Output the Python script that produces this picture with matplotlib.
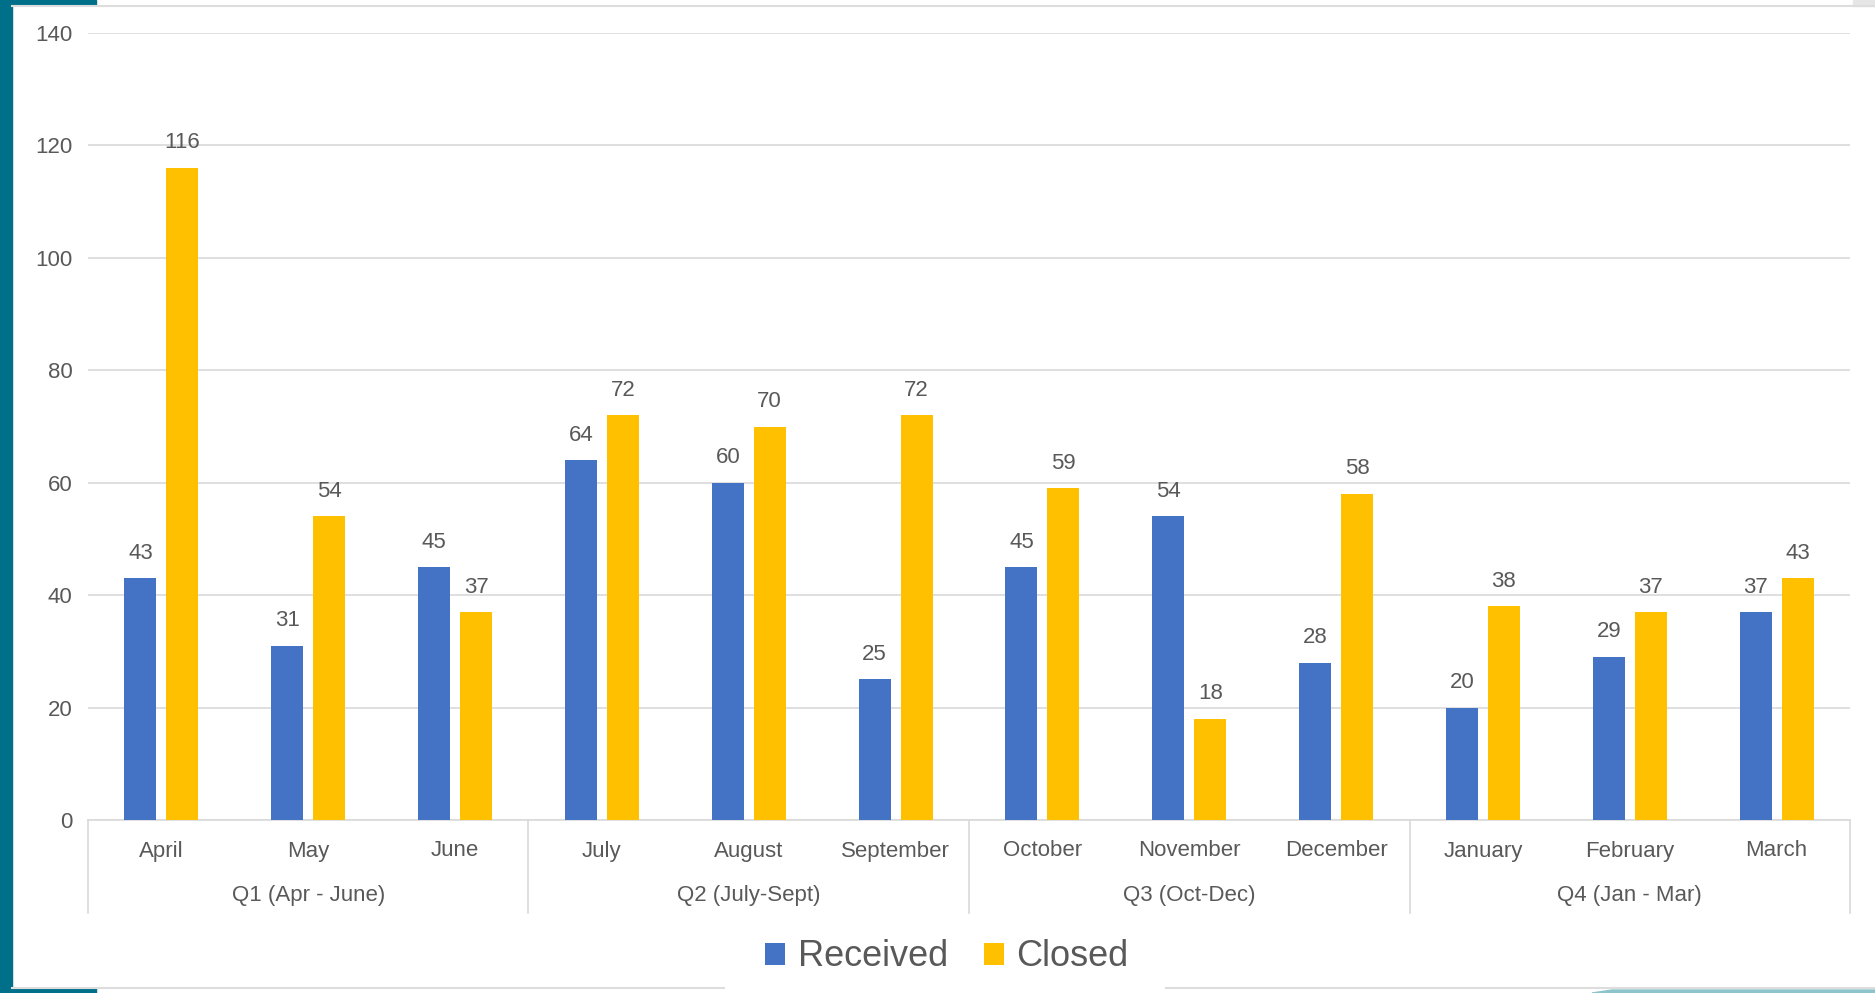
import numpy as np
import matplotlib.pyplot as plt
from matplotlib.patches import Rectangle, Polygon
from matplotlib.lines import Line2D

months = ['April', 'May', 'June', 'July', 'August', 'September',
          'October', 'November', 'December', 'January', 'February', 'March']
quarters = ['Q1 (Apr - June)', 'Q2 (July-Sept)', 'Q3 (Oct-Dec)', 'Q4 (Jan - Mar)']
received = [43, 31, 45, 64, 60, 25, 45, 54, 28, 20, 29, 37]
closed = [116, 54, 37, 72, 70, 72, 59, 18, 58, 38, 37, 43]

plt.rcParams['font.family'] = ['Liberation Sans', 'DejaVu Sans']
txt = '#595959'
blue = '#4472C4'
gold = '#FFC000'
teal = '#00708A'
fs = 16

W, H = 1875, 993
fig = plt.figure(figsize=(W / 100, H / 100), dpi=100)

# frame decorations (pixel coords, y from top)
bg = fig.add_axes([0, 0, 1, 1])
bg.set_xlim(0, W)
bg.set_ylim(H, 0)
bg.axis('off')
bg.add_patch(Rectangle((0, 0), 12, H, color=teal))
bg.add_patch(Rectangle((0, 0), 96, 5, color=teal))
bg.add_patch(Rectangle((0, 988), 96, 5, color=teal))
bg.add_patch(Polygon([(1592, 993), (1612, 990), (W, 990), (W, 993)], color='#8CC4CB'))
bg.add_line(Line2D([12, W], [5.5, 5.5], color='#DDDDDD', lw=1.5))
bg.add_line(Line2D([12, 724], [988, 988], color='#DDDDDD', lw=1.5))
bg.add_line(Line2D([1166, W], [988, 988], color='#DDDDDD', lw=1.5))
bg.add_patch(Rectangle((1853, 0), W - 1853, 6, color='#E6E6E6'))

# main plot area
x0, x1, ytop, ybot = 88, 1850, 33, 820
ph = ybot - ytop
ax = fig.add_axes([x0 / W, 1 - ybot / H, (x1 - x0) / W, ph / H])
x = np.arange(len(months))
bw = 0.218
off = 0.143
b1 = ax.bar(x - off, received, bw, color=blue, label='Received', zorder=3)
b2 = ax.bar(x + off, closed, bw, color=gold, label='Closed', zorder=3)
for bars in (b1, b2):
    for r in bars:
        ax.annotate(str(int(r.get_height())), (r.get_x() + r.get_width() / 2, r.get_height()),
                    xytext=(0, 25), textcoords='offset pixels', ha='center', va='center',
                    fontsize=fs, color=txt)

ax.set_xlim(-0.5, 11.5)
ax.set_ylim(0, 140)
ax.set_yticks(range(0, 141, 20))
ax.grid(axis='y', color='#D9D9D9', lw=1.2, zorder=0)
for s in ['top', 'right', 'left']:
    ax.spines[s].set_visible(False)
ax.spines['bottom'].set_color('#D9D9D9')
ax.spines['bottom'].set_linewidth(1.2)
ax.tick_params(axis='y', length=0, pad=11, labelsize=fs, labelcolor=txt)
ax.set_xticks(x)
ax.set_xticklabels([])
ax.tick_params(axis='x', length=0)

# month and quarter labels
trans = ax.get_xaxis_transform()
for i, m in enumerate(months):
    ax.text(i, -(851 - ybot) / ph, m, transform=trans, ha='center', va='center',
            fontsize=fs, color=txt)
for b in [-0.5, 2.5, 5.5, 8.5, 11.5]:
    ax.plot([b, b], [0, -(913 - ybot) / ph], transform=trans,
            color='#D9D9D9', lw=1.2, clip_on=False)
for i, q in enumerate(quarters):
    ax.text(3 * i + 1, -(896 - ybot) / ph, q, transform=trans,
            ha='center', va='center', fontsize=fs, color=txt)

fig.legend(handles=[b1, b2], loc='center', bbox_to_anchor=(947 / W, 1 - 957 / H),
           ncol=2, frameon=False, fontsize=26, labelcolor=txt,
           handlelength=0.55, handleheight=0.55, handletextpad=0.35, columnspacing=1.0)

fig.savefig('out.png', dpi=100, facecolor='white')
